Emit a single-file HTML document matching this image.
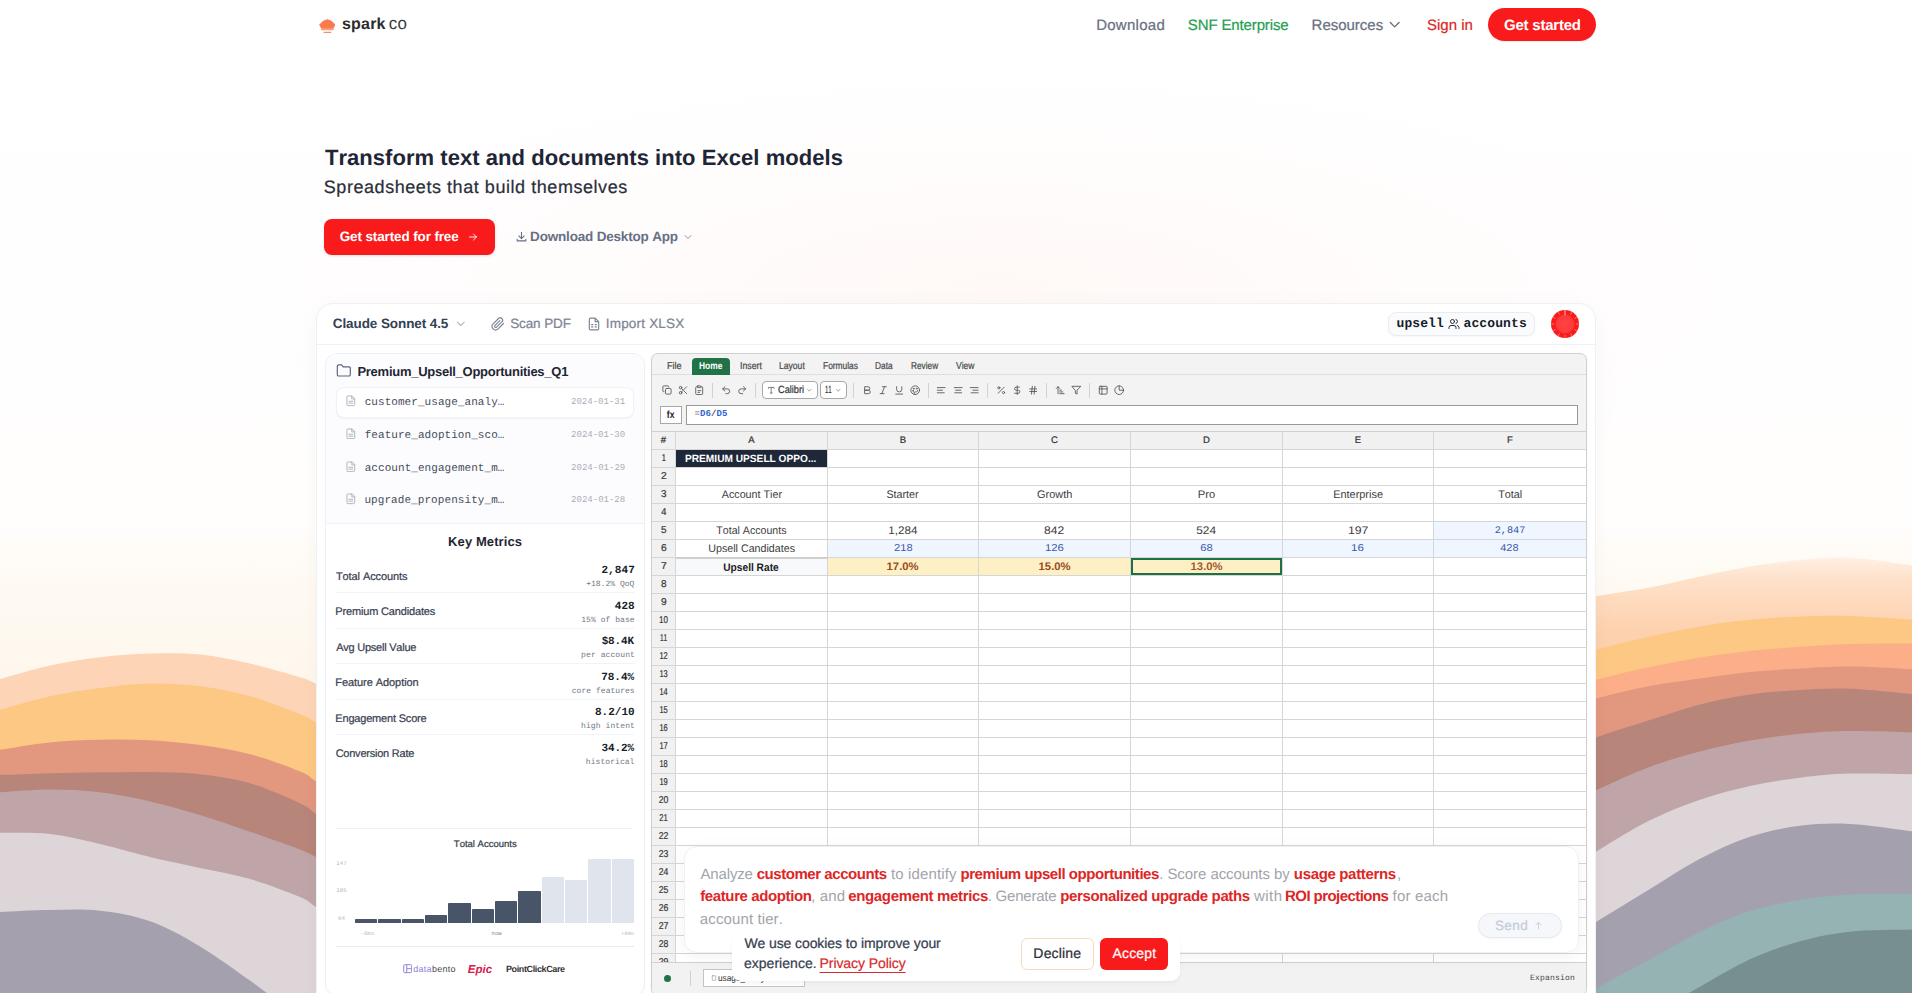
<!DOCTYPE html>
<html lang="en">
<head>
<meta charset="utf-8">
<title>spark co — Transform text and documents into Excel models</title>
<style>
*{box-sizing:border-box;margin:0;padding:0}
html,body{width:1920px;height:993px;overflow:hidden;background:#fff}
body{font-family:"Liberation Sans",sans-serif;color:#1f2937;font-kerning:none;text-rendering:geometricPrecision}
#root{position:relative;width:1920px;height:993px;overflow:hidden;background:#fff}
.b{position:absolute;display:block}
.t{position:absolute;white-space:nowrap;display:block}
.m{font-family:"Liberation Mono","DejaVu Sans Mono",monospace}
#bg{position:absolute;left:0;top:0;width:1912px;height:993px;overflow:hidden;
 background:
  radial-gradient(ellipse 800px 230px at 1000px 290px, rgba(255,242,240,.5), rgba(255,247,246,.25) 55%, rgba(255,255,255,0) 100%),
  linear-gradient(180deg,#ffffff 0px,#fffefe 300px,#fffefd 528px,#fffbf6 550px,#fef9f1 610px,#fef7ed 680px,#fef7ed 993px)}
</style>
</head>
<body>
<div id="root">
<div id="bg">
<svg class="b" style="left:0;top:0" width="1912" height="993" viewBox="0 0 1912 993">
<defs><linearGradient id="pg" gradientUnits="userSpaceOnUse" x1="0" y1="556" x2="0" y2="632"><stop offset="0" stop-color="#fff1e6"/><stop offset="0.3" stop-color="#fee1ca"/><stop offset="1" stop-color="#fdd1ae"/></linearGradient></defs>
<path d="M-20.0,686.0C-16.7,684.8 -11.7,682.4 0.0,679.0C11.7,675.6 33.3,669.0 50.0,665.4C66.7,661.8 83.3,659.2 100.0,657.2C116.7,655.2 133.3,654.1 150.0,653.6C166.7,653.1 183.3,652.8 200.0,654.5C216.7,656.2 233.3,659.8 250.0,663.6C266.7,667.4 289.0,673.9 300.0,677.2C311.0,680.5 309.3,680.9 316.0,683.5C322.7,686.1 336.0,691.4 340.0,693.0L340.0,1000L-20.0,1000Z" fill="#fdd5b6"/>
<path d="M-20.0,716.0C-16.7,715.0 -11.7,713.1 0.0,709.8C11.7,706.5 33.3,699.8 50.0,696.2C66.7,692.6 83.3,690.1 100.0,688.0C116.7,685.9 133.3,683.8 150.0,683.5C166.7,683.2 183.3,684.1 200.0,686.2C216.7,688.3 233.3,691.5 250.0,696.2C266.7,700.9 289.0,709.9 300.0,714.3C311.0,718.7 309.3,719.0 316.0,722.5C322.7,726.0 336.0,732.9 340.0,735.0L340.0,1000L-20.0,1000Z" fill="#fdc784"/>
<path d="M-20.0,753.0C-16.7,752.5 -11.7,751.5 0.0,749.7C11.7,747.9 33.3,744.1 50.0,742.4C66.7,740.7 83.3,740.1 100.0,739.7C116.7,739.3 133.3,739.3 150.0,740.2C166.7,741.1 183.3,742.8 200.0,745.1C216.7,747.4 233.3,749.8 250.0,754.2C266.7,758.6 289.0,766.9 300.0,771.4C311.0,775.9 309.3,777.1 316.0,781.4C322.7,785.7 336.0,794.4 340.0,797.0L340.0,1000L-20.0,1000Z" fill="#e2977f"/>
<path d="M-20.0,776.0C-16.7,775.8 -11.7,775.5 0.0,775.0C11.7,774.5 33.3,773.7 50.0,773.2C66.7,772.8 83.3,772.5 100.0,772.3C116.7,772.1 133.3,771.7 150.0,772.0C166.7,772.3 183.3,772.3 200.0,774.2C216.7,776.1 233.3,778.4 250.0,783.2C266.7,788.0 289.0,798.1 300.0,803.2C311.0,808.3 309.3,809.5 316.0,814.0C322.7,818.5 336.0,827.3 340.0,830.0L340.0,1000L-20.0,1000Z" fill="#b7857a"/>
<path d="M-20.0,794.0C-16.7,793.7 -11.7,793.0 0.0,792.3C11.7,791.6 33.3,789.6 50.0,789.6C66.7,789.6 83.3,790.3 100.0,792.3C116.7,794.3 133.3,797.6 150.0,801.4C166.7,805.2 183.3,810.0 200.0,815.0C216.7,820.0 233.3,826.0 250.0,831.7C266.7,837.5 289.0,845.3 300.0,849.5C311.0,853.7 309.3,853.9 316.0,857.0C322.7,860.1 336.0,866.2 340.0,868.0L340.0,1000L-20.0,1000Z" fill="#bfa5a8"/>
<path d="M-20.0,833.0C-16.7,833.0 -11.7,832.6 0.0,832.8C11.7,833.0 33.3,832.1 50.0,834.0C66.7,835.9 83.3,840.2 100.0,844.0C116.7,847.8 133.3,853.0 150.0,857.0C166.7,861.0 183.3,864.3 200.0,868.0C216.7,871.7 233.3,874.2 250.0,879.0C266.7,883.8 289.0,892.3 300.0,897.0C311.0,901.7 309.3,902.8 316.0,907.0C322.7,911.2 336.0,919.5 340.0,922.0L340.0,1000L-20.0,1000Z" fill="#ddd5d8"/>
<path d="M-20.0,913.5C-16.7,913.2 -11.7,912.6 0.0,912.0C11.7,911.4 33.3,910.2 50.0,910.0C66.7,909.8 83.3,908.9 100.0,910.8C116.7,912.7 133.3,915.4 150.0,921.3C166.7,927.2 183.3,936.5 200.0,946.4C216.7,956.3 236.7,971.2 250.0,980.6C263.3,990.0 275.0,999.3 280.0,1003.0L280.0,1000L-20.0,1000Z" fill="#a4a0ad"/>
<path d="M1550.0,603.0C1558.3,601.7 1583.3,598.0 1600.0,595.4C1616.7,592.8 1633.3,590.7 1650.0,587.6C1666.7,584.5 1683.3,580.1 1700.0,576.6C1716.7,573.1 1733.3,569.4 1750.0,566.6C1766.7,563.8 1783.3,561.5 1800.0,560.0C1816.7,558.5 1831.3,556.8 1850.0,557.7C1868.7,558.6 1897.0,563.3 1912.0,565.5C1927.0,567.7 1935.3,570.1 1940.0,571.0L1940.0,1000L1550.0,1000Z" fill="url(#pg)"/>
<path d="M1550.0,662.0C1558.3,659.8 1583.3,652.9 1600.0,648.6C1616.7,644.3 1633.3,640.1 1650.0,636.4C1666.7,632.7 1683.3,629.2 1700.0,626.4C1716.7,623.6 1733.3,621.4 1750.0,619.8C1766.7,618.1 1783.3,617.1 1800.0,616.5C1816.7,615.9 1831.3,615.5 1850.0,616.0C1868.7,616.5 1897.0,618.8 1912.0,619.8C1927.0,620.8 1935.3,621.6 1940.0,622.0L1940.0,1000L1550.0,1000Z" fill="#fdc784"/>
<path d="M1550.0,693.0C1558.3,690.6 1583.3,683.1 1600.0,678.8C1616.7,674.5 1633.3,670.5 1650.0,667.0C1666.7,663.5 1683.3,660.2 1700.0,657.5C1716.7,654.8 1733.3,652.8 1750.0,651.0C1766.7,649.2 1783.3,648.0 1800.0,646.8C1816.7,645.6 1831.3,644.5 1850.0,644.0C1868.7,643.5 1897.0,643.5 1912.0,643.5C1927.0,643.5 1935.3,643.9 1940.0,644.0L1940.0,1000L1550.0,1000Z" fill="#fcae89"/>
<path d="M1550.0,714.0C1558.3,711.2 1583.3,702.2 1600.0,697.5C1616.7,692.8 1633.3,689.2 1650.0,686.0C1666.7,682.8 1683.3,680.8 1700.0,678.5C1716.7,676.2 1733.3,673.7 1750.0,672.0C1766.7,670.3 1783.3,669.4 1800.0,668.5C1816.7,667.6 1831.3,666.4 1850.0,666.5C1868.7,666.6 1897.0,668.5 1912.0,669.3C1927.0,670.0 1935.3,670.7 1940.0,671.0L1940.0,1000L1550.0,1000Z" fill="#e2977f"/>
<path d="M1550.0,755.0C1558.3,751.8 1583.3,741.8 1600.0,736.0C1616.7,730.2 1633.3,725.2 1650.0,720.0C1666.7,714.8 1683.3,708.8 1700.0,704.5C1716.7,700.2 1733.3,696.9 1750.0,694.5C1766.7,692.1 1783.3,691.0 1800.0,690.0C1816.7,689.0 1831.3,688.0 1850.0,688.7C1868.7,689.4 1897.0,692.6 1912.0,694.0C1927.0,695.4 1935.3,696.5 1940.0,697.0L1940.0,1000L1550.0,1000Z" fill="#b7857a"/>
<path d="M1550.0,812.0C1558.3,808.1 1583.3,795.9 1600.0,788.4C1616.7,780.9 1633.3,772.8 1650.0,766.7C1666.7,760.6 1683.3,756.0 1700.0,751.6C1716.7,747.2 1733.3,743.6 1750.0,740.6C1766.7,737.6 1783.3,735.3 1800.0,733.7C1816.7,732.1 1831.3,731.2 1850.0,731.0C1868.7,730.8 1897.0,731.9 1912.0,732.4C1927.0,732.9 1935.3,733.7 1940.0,734.0L1940.0,1000L1550.0,1000Z" fill="#bfa5a8"/>
<path d="M1550.0,880.0C1558.3,874.9 1583.3,859.2 1600.0,849.2C1616.7,839.2 1633.3,828.5 1650.0,820.3C1666.7,812.0 1683.3,805.4 1700.0,799.7C1716.7,794.0 1733.3,789.7 1750.0,786.0C1766.7,782.3 1783.3,779.8 1800.0,777.7C1816.7,775.6 1831.3,774.2 1850.0,773.6C1868.7,773.0 1897.0,773.8 1912.0,774.2C1927.0,774.6 1935.3,775.7 1940.0,776.0L1940.0,1000L1550.0,1000Z" fill="#ddd5d8"/>
<path d="M1550.0,950.0C1558.3,944.9 1583.3,929.8 1600.0,919.6C1616.7,909.4 1633.3,899.1 1650.0,889.0C1666.7,878.9 1683.3,867.5 1700.0,858.8C1716.7,850.1 1733.3,842.3 1750.0,836.8C1766.7,831.3 1783.3,827.9 1800.0,825.8C1816.7,823.6 1831.3,823.0 1850.0,823.9C1868.7,824.8 1897.0,829.3 1912.0,831.3C1927.0,833.3 1935.3,835.2 1940.0,836.0L1940.0,1000L1550.0,1000Z" fill="#a4a0ad"/>
<path d="M1550.0,1015.0C1558.3,1010.2 1583.3,995.3 1600.0,986.0C1616.7,976.7 1633.3,968.2 1650.0,959.2C1666.7,950.2 1683.3,939.7 1700.0,931.7C1716.7,923.7 1733.3,916.3 1750.0,911.0C1766.7,905.7 1783.3,902.7 1800.0,900.0C1816.7,897.3 1831.3,895.6 1850.0,894.6C1868.7,893.6 1897.0,893.8 1912.0,893.7C1927.0,893.6 1935.3,894.0 1940.0,894.0L1940.0,1000L1550.0,1000Z" fill="#94b3b2"/>
<path d="M1650.0,1015.0C1658.3,1010.3 1683.3,996.0 1700.0,986.7C1716.7,977.4 1733.3,966.8 1750.0,959.2C1766.7,951.6 1783.3,945.9 1800.0,941.3C1816.7,936.7 1831.3,933.7 1850.0,931.7C1868.7,929.7 1897.0,929.9 1912.0,929.5C1927.0,929.1 1935.3,929.5 1940.0,929.5L1940.0,1000L1650.0,1000Z" fill="#788f90"/>
</svg>
</div>
<svg class="b" style="left:318.69px;top:18.59px" width="16.67" height="14.32" viewBox="90 165 320 275"><path d="M250,176 L328,203 L400,275 L362,348 L138,348 L100,275 L172,203 Z" fill="#f97b4c" stroke="#f97b4c" stroke-width="12" stroke-linejoin="round"/><rect x="128" y="356" width="244" height="24" rx="3" fill="#fa9a78"/><rect x="176" y="410" width="148" height="26" rx="4" fill="#ea8f7c"/></svg>
<span class="t" id="t1" style="top:15.00px;font-size:16px;line-height:20px;color:#2b2b2b;left:341.94px;font-weight:700;letter-spacing:0.213px;">spark</span>
<span class="t" id="t2" style="top:13.00px;font-size:17px;line-height:21px;color:#3a3a3a;left:388.78px;letter-spacing:0.281px;">co</span>
<span class="t" id="t3" style="top:17.00px;font-size:15px;line-height:18px;color:#696f82;left:1096.17px;letter-spacing:0.270px;-webkit-text-stroke:0.22px currentColor;">Download</span>
<span class="t" id="t4" style="top:17.00px;font-size:15px;line-height:18px;color:#1fa050;left:1187.82px;letter-spacing:-0.130px;-webkit-text-stroke:0.22px currentColor;">SNF Enterprise</span>
<span class="t" id="t5" style="top:17.00px;font-size:15px;line-height:18px;color:#696f82;left:1311.57px;letter-spacing:-0.016px;-webkit-text-stroke:0.22px currentColor;">Resources</span>
<svg class="b" style="left:1386.10px;top:15.60px;" width="17.40" height="17.40" viewBox="0 0 24 24" fill="none" stroke="#696f82" stroke-width="1.9" stroke-linecap="round" stroke-linejoin="round"><path d="M6 9l6 6 6-6"/></svg>
<span class="t" id="t6" style="top:17.00px;font-size:15px;line-height:18px;color:#dc2626;left:1426.92px;letter-spacing:0.032px;-webkit-text-stroke:0.22px currentColor;">Sign in</span>
<div class="b" style="left:1488.00px;top:8.00px;width:108.00px;height:33.00px;background:#f91b1b;border-radius:17px;box-shadow:0 1px 2px rgba(0,0,0,.08)"></div>
<span class="t" id="t7" style="top:17.00px;font-size:15px;line-height:18px;color:#fff;left:1503.98px;font-weight:700;letter-spacing:-0.219px;">Get started</span>
<span class="t" id="t8" style="top:144.00px;font-size:22px;line-height:27px;color:#1e2536;left:324.95px;font-weight:700;letter-spacing:0.046px;">Transform text and documents into Excel models</span>
<span class="t" id="t9" style="top:176.00px;font-size:18px;line-height:22px;color:#2a2f3a;left:323.78px;letter-spacing:0.554px;-webkit-text-stroke:0.22px currentColor;">Spreadsheets that build themselves</span>
<div class="b" style="left:324.00px;top:219.20px;width:171.00px;height:35.60px;background:#f91b1b;border-radius:8px;box-shadow:0 1px 3px rgba(0,0,0,.12)"></div>
<span class="t" id="t10" style="top:228.00px;font-size:13.5px;line-height:17px;color:#fff;left:339.75px;font-weight:700;letter-spacing:-0.133px;">Get started for free</span>
<svg class="b" style="left:467.00px;top:230.50px;" width="12.00" height="12.00" viewBox="0 0 24 24" fill="none" stroke="#fff" stroke-width="1.8" stroke-linecap="round" stroke-linejoin="round"><path d="M5 12h14M13 6l6 6-6 6"/></svg>
<svg class="b" style="left:514.50px;top:229.50px;" width="13.00" height="13.00" viewBox="0 0 24 24" fill="none" stroke="#667085" stroke-width="2" stroke-linecap="round" stroke-linejoin="round"><path d="M12 4v11M7 11l5 5 5-5M4 17v3h16v-3"/></svg>
<span class="t" id="t11" style="top:228.00px;font-size:13.5px;line-height:17px;color:#667085;left:530.10px;font-weight:700;letter-spacing:-0.186px;">Download Desktop App</span>
<svg class="b" style="left:682.00px;top:230.50px;" width="12.00" height="12.00" viewBox="0 0 24 24" fill="none" stroke="#8a93a3" stroke-width="2" stroke-linecap="round" stroke-linejoin="round"><path d="M6 9l6 6 6-6"/></svg>
<div class="b" style="left:316.00px;top:303.00px;width:1280.00px;height:717.00px;background:#fff;border:1px solid #f0f1f4;border-radius:17px;box-shadow:0 4px 24px rgba(15,23,42,.03)"></div>
<div class="b" style="left:317.00px;top:344.00px;width:1278.00px;height:1.00px;background:#f0f1f4"></div>
<span class="t" id="t12" style="top:315.00px;font-size:13.5px;line-height:17px;color:#334155;left:332.75px;font-weight:700;letter-spacing:-0.087px;">Claude Sonnet 4.5</span>
<svg class="b" style="left:454.20px;top:317.40px;" width="13.60" height="13.60" viewBox="0 0 24 24" fill="none" stroke="#b4bac4" stroke-width="2" stroke-linecap="round" stroke-linejoin="round"><path d="M6 9l6 6 6-6"/></svg>
<svg class="b" style="left:490.50px;top:317.00px;" width="14.00" height="14.00" viewBox="0 0 24 24" fill="none" stroke="#7d8594" stroke-width="2" stroke-linecap="round" stroke-linejoin="round"><path d="M21.4 11.1l-9.2 9.2a6 6 0 0 1-8.5-8.5l9.2-9.2a4 4 0 0 1 5.7 5.7l-9.2 9.2a2 2 0 0 1-2.8-2.8l8.5-8.5"/></svg>
<span class="t" id="t13" style="top:315.00px;font-size:13.5px;line-height:17px;color:#7d8594;left:510.19px;letter-spacing:-0.110px;-webkit-text-stroke:0.22px currentColor;">Scan PDF</span>
<svg class="b" style="left:587.00px;top:317.00px;" width="14.00" height="14.00" viewBox="0 0 24 24" fill="none" stroke="#7d8594" stroke-width="2" stroke-linecap="round" stroke-linejoin="round"><path d="M14 2H6a2 2 0 0 0-2 2v16a2 2 0 0 0 2 2h12a2 2 0 0 0 2-2V8zM14 2v6h6M8 13h2M8 17h2M14 13h2M14 17h2"/></svg>
<span class="t" id="t14" style="top:315.00px;font-size:13.5px;line-height:17px;color:#7d8594;left:605.75px;letter-spacing:0.200px;-webkit-text-stroke:0.22px currentColor;">Import XLSX</span>
<div class="b" style="left:1388.40px;top:312.30px;width:146.20px;height:23.30px;background:#fafbfd;border:1px solid #e9edf2;border-radius:8px;box-shadow:0 1px 2px rgba(15,23,42,.04)"></div>
<span class="t m" id="t15" style="top:316.00px;font-size:13px;line-height:16px;color:#161c2a;left:1396.54px;font-weight:700;letter-spacing:0.094px;">upsell</span>
<svg class="b" style="left:1448.00px;top:317.60px;" width="12.00" height="12.00" viewBox="0 0 24 24" fill="none" stroke="#1f2937" stroke-width="2" stroke-linecap="round" stroke-linejoin="round"><path d="M16 21v-2a4 4 0 0 0-4-4H6a4 4 0 0 0-4 4v2"/><circle cx="9" cy="7" r="4"/><path d="M22 21v-2a4 4 0 0 0-3-3.87M16 3.13a4 4 0 0 1 0 7.75"/></svg>
<span class="t m" id="t16" style="top:316.00px;font-size:13px;line-height:16px;color:#161c2a;left:1463.53px;font-weight:700;letter-spacing:0.108px;">accounts</span>
<svg class="b" style="left:1550px;top:309px" width="30" height="30" viewBox="0 0 30 30"><defs><radialGradient id="rg" cx="50%" cy="50%" r="50%"><stop offset="0" stop-color="#ff4343"/><stop offset="0.62" stop-color="#fd3a3a"/><stop offset="0.7" stop-color="#f81c1c"/><stop offset="1" stop-color="#f81c1c"/></radialGradient></defs><circle cx="15" cy="15" r="14" fill="url(#rg)"/><g stroke="#ff7a7a" stroke-width="0.9" stroke-linecap="round"><path d="M15 1.6v4.2" stroke="#ffb3b3" stroke-width="1.1"/><path d="M21.7 3.4l-1.1 1.9M26.6 8.3l-1.9 1.1M28.4 15h-2.2M26.6 21.7l-1.9-1.1M21.7 26.6l-1.1-1.9M15 28.4v-2.2M8.3 26.6l1.1-1.9M3.4 21.7l1.9-1.1M1.6 15h2.2M3.4 8.3l1.9 1.1M8.3 3.4l1.1 1.9"/></g></svg>
<div class="b" style="left:325.00px;top:353.00px;width:320.00px;height:643.00px;background:#fff;border:1px solid #edf0f4;border-radius:12px;box-shadow:0 1px 3px rgba(15,23,42,.03)"></div>
<div class="b" style="left:326.00px;top:354.00px;width:318.00px;height:170.00px;background:#fcfcfe;border-radius:11px 11px 0 0;border-bottom:1px solid #f0f2f5"></div>
<svg class="b" style="left:336.20px;top:363.00px;" width="15.60" height="15.60" viewBox="0 0 24 24" fill="none" stroke="#5b6577" stroke-width="1.8" stroke-linecap="round" stroke-linejoin="round"><path d="M20 20a2 2 0 0 0 2-2V8a2 2 0 0 0-2-2h-7.9a2 2 0 0 1-1.7-.9L9.6 3.9A2 2 0 0 0 7.9 3H4a2 2 0 0 0-2 2v13a2 2 0 0 0 2 2z"/></svg>
<span class="t" id="t17" style="top:364.00px;font-size:13px;line-height:16px;color:#1f2633;left:357.43px;font-weight:700;letter-spacing:-0.265px;">Premium_Upsell_Opportunities_Q1</span>
<div class="b" style="left:336.00px;top:387.00px;width:298.00px;height:31.00px;background:#fff;border:1px solid #eef1f5;border-radius:8px;box-shadow:0 1px 2px rgba(15,23,42,.04)"></div>
<svg class="b" style="left:345.00px;top:395.20px;" width="11.60" height="11.60" viewBox="0 0 24 24" fill="none" stroke="#adb3be" stroke-width="2" stroke-linecap="round" stroke-linejoin="round"><path d="M14 2H6a2 2 0 0 0-2 2v16a2 2 0 0 0 2 2h12a2 2 0 0 0 2-2V8zM14 2v6h6M8 13h8M8 17h8"/></svg>
<span class="t m" id="t18" style="top:396.00px;font-size:11px;line-height:14px;color:#464d5b;left:364.70px;letter-spacing:0.055px;">customer_usage_analy…</span>
<span class="t m" id="t19" style="top:397.00px;font-size:9px;line-height:11px;color:#a9aeb9;left:571.07px;letter-spacing:-0.005px;">2024-01-31</span>
<svg class="b" style="left:345.00px;top:427.90px;" width="11.60" height="11.60" viewBox="0 0 24 24" fill="none" stroke="#adb3be" stroke-width="2" stroke-linecap="round" stroke-linejoin="round"><path d="M14 2H6a2 2 0 0 0-2 2v16a2 2 0 0 0 2 2h12a2 2 0 0 0 2-2V8zM14 2v6h6M8 13h8M8 17h8"/></svg>
<span class="t m" id="t20" style="top:429.00px;font-size:11px;line-height:14px;color:#464d5b;left:364.66px;letter-spacing:0.057px;">feature_adoption_sco…</span>
<span class="t m" id="t21" style="top:430.00px;font-size:9px;line-height:11px;color:#a9aeb9;left:571.07px;letter-spacing:0.009px;">2024-01-30</span>
<svg class="b" style="left:345.00px;top:460.60px;" width="11.60" height="11.60" viewBox="0 0 24 24" fill="none" stroke="#adb3be" stroke-width="2" stroke-linecap="round" stroke-linejoin="round"><path d="M14 2H6a2 2 0 0 0-2 2v16a2 2 0 0 0 2 2h12a2 2 0 0 0 2-2V8zM14 2v6h6M8 13h8M8 17h8"/></svg>
<span class="t m" id="t22" style="top:462.00px;font-size:11px;line-height:14px;color:#464d5b;left:364.71px;letter-spacing:0.055px;">account_engagement_m…</span>
<span class="t m" id="t23" style="top:463.00px;font-size:9px;line-height:11px;color:#a9aeb9;left:571.07px;letter-spacing:0.016px;">2024-01-29</span>
<svg class="b" style="left:345.00px;top:493.30px;" width="11.60" height="11.60" viewBox="0 0 24 24" fill="none" stroke="#adb3be" stroke-width="2" stroke-linecap="round" stroke-linejoin="round"><path d="M14 2H6a2 2 0 0 0-2 2v16a2 2 0 0 0 2 2h12a2 2 0 0 0 2-2V8zM14 2v6h6M8 13h8M8 17h8"/></svg>
<span class="t m" id="t24" style="top:494.00px;font-size:11px;line-height:14px;color:#464d5b;left:364.41px;letter-spacing:0.070px;">upgrade_propensity_m…</span>
<span class="t m" id="t25" style="top:495.00px;font-size:9px;line-height:11px;color:#a9aeb9;left:571.07px;letter-spacing:0.013px;">2024-01-28</span>
<div class="t" style="top:534.00px;font-size:13px;line-height:16px;color:#1f2633;left:285.08px;width:400px;text-align:center;font-weight:700;letter-spacing:0.092px;"><span id="t26">Key Metrics</span></div>
<span class="t" id="t27" style="top:570.00px;font-size:11px;line-height:14px;color:#394150;left:335.95px;letter-spacing:-0.093px;-webkit-text-stroke:0.22px currentColor;">Total Accounts</span>
<span class="t m" id="t28" style="top:564.00px;font-size:11px;line-height:14px;color:#161c2a;right:1285.17px;font-weight:700;letter-spacing:0.085px;">2,847</span>
<span class="t m" id="t29" style="top:580.00px;font-size:8px;line-height:10px;color:#6f7786;right:1285.62px;letter-spacing:0.023px;">+18.2% QoQ</span>
<div class="b" style="left:336.00px;top:592.20px;width:298.00px;height:1.00px;background:#f1f3f6"></div>
<span class="t" id="t30" style="top:605.00px;font-size:11px;line-height:14px;color:#394150;left:335.30px;letter-spacing:-0.160px;-webkit-text-stroke:0.22px currentColor;">Premium Candidates</span>
<span class="t m" id="t31" style="top:600.00px;font-size:11px;line-height:14px;color:#161c2a;right:1285.40px;font-weight:700;letter-spacing:0.007px;">428</span>
<span class="t m" id="t32" style="top:616.00px;font-size:8px;line-height:10px;color:#6f7786;right:1285.42px;letter-spacing:0.050px;">15% of base</span>
<div class="b" style="left:336.00px;top:627.70px;width:298.00px;height:1.00px;background:#f1f3f6"></div>
<span class="t" id="t33" style="top:641.00px;font-size:11px;line-height:14px;color:#394150;left:336.18px;letter-spacing:-0.237px;-webkit-text-stroke:0.22px currentColor;">Avg Upsell Value</span>
<span class="t m" id="t34" style="top:635.00px;font-size:11px;line-height:14px;color:#161c2a;right:1286.17px;font-weight:700;letter-spacing:-0.171px;">$8.4K</span>
<span class="t m" id="t35" style="top:651.00px;font-size:8px;line-height:10px;color:#6f7786;right:1285.08px;letter-spacing:0.092px;">per account</span>
<div class="b" style="left:336.00px;top:663.20px;width:298.00px;height:1.00px;background:#f1f3f6"></div>
<span class="t" id="t36" style="top:676.00px;font-size:11px;line-height:14px;color:#394150;left:335.30px;letter-spacing:-0.065px;-webkit-text-stroke:0.22px currentColor;">Feature Adoption</span>
<span class="t m" id="t37" style="top:671.00px;font-size:11px;line-height:14px;color:#161c2a;right:1286.10px;font-weight:700;letter-spacing:-0.089px;">78.4%</span>
<span class="t m" id="t38" style="top:687.00px;font-size:8px;line-height:10px;color:#6f7786;right:1285.29px;letter-spacing:0.046px;">core features</span>
<div class="b" style="left:336.00px;top:698.70px;width:298.00px;height:1.00px;background:#f1f3f6"></div>
<span class="t" id="t39" style="top:712.00px;font-size:11px;line-height:14px;color:#394150;left:335.30px;letter-spacing:-0.185px;-webkit-text-stroke:0.22px currentColor;">Engagement Score</span>
<span class="t m" id="t40" style="top:706.00px;font-size:11px;line-height:14px;color:#161c2a;right:1285.35px;font-weight:700;letter-spacing:0.023px;">8.2/10</span>
<span class="t m" id="t41" style="top:722.00px;font-size:8px;line-height:10px;color:#6f7786;right:1285.08px;letter-spacing:0.094px;">high intent</span>
<div class="b" style="left:336.00px;top:734.20px;width:298.00px;height:1.00px;background:#f1f3f6"></div>
<span class="t" id="t42" style="top:747.00px;font-size:11px;line-height:14px;color:#394150;left:335.64px;letter-spacing:-0.227px;-webkit-text-stroke:0.22px currentColor;">Conversion Rate</span>
<span class="t m" id="t43" style="top:742.00px;font-size:11px;line-height:14px;color:#161c2a;right:1286.15px;font-weight:700;letter-spacing:-0.140px;">34.2%</span>
<span class="t m" id="t44" style="top:758.00px;font-size:8px;line-height:10px;color:#6f7786;right:1285.50px;letter-spacing:0.062px;">historical</span>
<div class="b" style="left:336.00px;top:827.70px;width:296.50px;height:1.00px;background:#eef0f3"></div>
<div class="t" style="top:839.00px;font-size:9.5px;line-height:12px;color:#333b49;left:285.27px;width:400px;text-align:center;letter-spacing:0.002px;-webkit-text-stroke:0.22px currentColor;"><span id="t45">Total Accounts</span></div>
<div class="t m" style="top:860.00px;font-size:5.8px;line-height:7px;color:#b0b5c0;left:141.50px;width:400px;text-align:center;"><span id="t46">147</span></div>
<div class="t m" style="top:887.00px;font-size:5.8px;line-height:7px;color:#b0b5c0;left:141.50px;width:400px;text-align:center;"><span id="t47">105</span></div>
<div class="t m" style="top:915.00px;font-size:5.8px;line-height:7px;color:#b0b5c0;left:141.50px;width:400px;text-align:center;"><span id="t48">64</span></div>
<div class="b" style="left:355.20px;top:919.20px;width:21.90px;height:3.80px;background:#485467;border-radius:0.8px 0.8px 0 0"></div>
<div class="b" style="left:378.10px;top:919.20px;width:22.90px;height:3.80px;background:#485467;border-radius:0.8px 0.8px 0 0"></div>
<div class="b" style="left:402.00px;top:919.20px;width:22.00px;height:3.80px;background:#485467;border-radius:0.8px 0.8px 0 0"></div>
<div class="b" style="left:425.00px;top:915.10px;width:21.90px;height:7.90px;background:#485467;border-radius:0.8px 0.8px 0 0"></div>
<div class="b" style="left:447.90px;top:903.10px;width:23.00px;height:19.90px;background:#485467;border-radius:0.8px 0.8px 0 0"></div>
<div class="b" style="left:471.90px;top:909.00px;width:21.90px;height:14.00px;background:#485467;border-radius:0.8px 0.8px 0 0"></div>
<div class="b" style="left:494.80px;top:901.10px;width:22.00px;height:21.90px;background:#485467;border-radius:0.8px 0.8px 0 0"></div>
<div class="b" style="left:517.80px;top:891.10px;width:22.90px;height:31.90px;background:#485467;border-radius:0.8px 0.8px 0 0"></div>
<div class="b" style="left:541.70px;top:877.10px;width:22.00px;height:45.90px;background:#e0e4ec;border-radius:0.8px 0.8px 0 0"></div>
<div class="b" style="left:565.20px;top:879.90px;width:21.40px;height:43.10px;background:#e0e4ec;border-radius:0.8px 0.8px 0 0"></div>
<div class="b" style="left:588.10px;top:859.00px;width:22.50px;height:64.00px;background:#e0e4ec;border-radius:0.8px 0.8px 0 0"></div>
<div class="b" style="left:612.10px;top:859.00px;width:21.90px;height:64.00px;background:#e0e4ec;border-radius:0.8px 0.8px 0 0"></div>
<span class="t m" id="t49" style="top:930.00px;font-size:5.6px;line-height:7px;color:#b6bbc5;left:360.60px;">-8mo</span>
<span class="t m" id="t50" style="top:930.00px;font-size:5.6px;line-height:7px;color:#7d8490;left:491.60px;">now</span>
<span class="t m" id="t51" style="top:930.00px;font-size:5.6px;line-height:7px;color:#b6bbc5;right:1285.80px;">+4mo</span>
<div class="b" style="left:336.00px;top:945.90px;width:298.00px;height:1.00px;background:#e8ebef"></div>
<svg class="b" style="left:402.8px;top:964.2px" width="9.4" height="9.4" viewBox="0 0 20 20" fill="none" stroke="#8b7fd6" stroke-width="2"><rect x="1.5" y="1.5" width="17" height="17" rx="2"/><path d="M8 1.5v17M8 10h10.5"/></svg>
<span class="t" id="dbento" style="top:964.00px;font-size:9px;line-height:11px;color:#4a4a55;left:413.22px;letter-spacing:0.290px;"><span style="color:#8f84d8">data</span><span style="color:#4a4a55">bento</span></span>
<span class="t" id="t53" style="top:963.00px;font-size:11.5px;line-height:14px;color:#d61c4e;left:467.80px;font-weight:700;letter-spacing:0.028px;font-style:italic;">Epic</span>
<span class="t" id="t54" style="top:964.00px;font-size:9px;line-height:11px;color:#333333;left:506.00px;font-weight:700;letter-spacing:-0.385px;">PointClickCare</span>
<div class="b" style="left:651.00px;top:353.00px;width:936.00px;height:643.00px;background:#f3f3f3;border:1px solid #d0d0d0;border-radius:7px;box-shadow:0 1px 3px rgba(0,0,0,.05)"></div>
<div class="b" style="left:652.00px;top:374.00px;width:934.00px;height:1.00px;background:#dedede"></div>
<div class="b" style="left:692.00px;top:358.00px;width:38.00px;height:16.50px;background:#217346;border-radius:4px 4px 0 0"></div>
<span class="t" id="t55" style="top:361.00px;font-size:10px;line-height:12px;color:#4a4a4a;left:667.25px;-webkit-text-stroke:0.22px currentColor;transform:scaleX(0.9092);transform-origin:0 50%;">File</span>
<span class="t" id="t56" style="top:361.00px;font-size:10px;line-height:12px;color:#fff;left:698.94px;font-weight:700;transform:scaleX(0.8404);transform-origin:0 50%;">Home</span>
<span class="t" id="t57" style="top:361.00px;font-size:10px;line-height:12px;color:#4a4a4a;left:739.69px;-webkit-text-stroke:0.22px currentColor;transform:scaleX(0.8745);transform-origin:0 50%;">Insert</span>
<span class="t" id="t58" style="top:361.00px;font-size:10px;line-height:12px;color:#4a4a4a;left:779.30px;-webkit-text-stroke:0.22px currentColor;transform:scaleX(0.8582);transform-origin:0 50%;">Layout</span>
<span class="t" id="t59" style="top:361.00px;font-size:10px;line-height:12px;color:#4a4a4a;left:822.81px;-webkit-text-stroke:0.22px currentColor;transform:scaleX(0.8396);transform-origin:0 50%;">Formulas</span>
<span class="t" id="t60" style="top:361.00px;font-size:10px;line-height:12px;color:#4a4a4a;left:875.31px;-webkit-text-stroke:0.22px currentColor;transform:scaleX(0.8373);transform-origin:0 50%;">Data</span>
<span class="t" id="t61" style="top:361.00px;font-size:10px;line-height:12px;color:#4a4a4a;left:910.82px;-webkit-text-stroke:0.22px currentColor;transform:scaleX(0.8283);transform-origin:0 50%;">Review</span>
<span class="t" id="t62" style="top:361.00px;font-size:10px;line-height:12px;color:#4a4a4a;left:956.46px;-webkit-text-stroke:0.22px currentColor;transform:scaleX(0.8543);transform-origin:0 50%;">View</span>
<svg class="b" style="left:661.55px;top:384.50px;" width="10.40" height="10.40" viewBox="0 0 24 24" fill="none" stroke="#555555" stroke-width="2" stroke-linecap="round" stroke-linejoin="round"><rect x="8" y="8" width="13" height="13" rx="2.5"/><path d="M4.5 15.5H4a2 2 0 0 1-2-2V4a2 2 0 0 1 2-2h9.5a2 2 0 0 1 2 2v.5"/></svg>
<svg class="b" style="left:677.55px;top:384.50px;" width="10.40" height="10.40" viewBox="0 0 24 24" fill="none" stroke="#555555" stroke-width="2" stroke-linecap="round" stroke-linejoin="round"><circle cx="6" cy="6" r="3"/><circle cx="6" cy="18" r="3"/><path d="M20 4L8.1 15.9M14.5 14.5L20 20M8.1 8.1L12 12"/></svg>
<svg class="b" style="left:693.80px;top:384.50px;" width="10.40" height="10.40" viewBox="0 0 24 24" fill="none" stroke="#555555" stroke-width="2" stroke-linecap="round" stroke-linejoin="round"><rect x="8" y="2" width="8" height="4" rx="1"/><path d="M16 4h2a2 2 0 0 1 2 2v14a2 2 0 0 1-2 2H6a2 2 0 0 1-2-2V6a2 2 0 0 1 2-2h2M9 13h7M9 17h4"/></svg>
<div class="b" style="left:712.00px;top:382.50px;width:1.00px;height:15.00px;background:#d2d2d2"></div>
<div class="b" style="left:755.00px;top:382.50px;width:1.00px;height:15.00px;background:#d2d2d2"></div>
<div class="b" style="left:853.00px;top:382.50px;width:1.00px;height:15.00px;background:#d2d2d2"></div>
<div class="b" style="left:928.00px;top:382.50px;width:1.00px;height:15.00px;background:#d2d2d2"></div>
<div class="b" style="left:987.00px;top:382.50px;width:1.00px;height:15.00px;background:#d2d2d2"></div>
<div class="b" style="left:1046.00px;top:382.50px;width:1.00px;height:15.00px;background:#d2d2d2"></div>
<div class="b" style="left:1089.00px;top:382.50px;width:1.00px;height:15.00px;background:#d2d2d2"></div>
<svg class="b" style="left:720.80px;top:384.50px;" width="10.40" height="10.40" viewBox="0 0 24 24" fill="none" stroke="#555555" stroke-width="2" stroke-linecap="round" stroke-linejoin="round"><path d="M9 14L4 9l5-5"/><path d="M4 9h10.5a5.5 5.5 0 0 1 0 11H11"/></svg>
<svg class="b" style="left:736.80px;top:384.50px;" width="10.40" height="10.40" viewBox="0 0 24 24" fill="none" stroke="#555555" stroke-width="2" stroke-linecap="round" stroke-linejoin="round"><path d="M15 14l5-5-5-5"/><path d="M20 9H9.5a5.5 5.5 0 0 0 0 11H13"/></svg>
<div class="b" style="left:762.00px;top:381.00px;width:56.00px;height:18.00px;background:#fff;border:1px solid #a8a8a8;border-radius:4px"></div>
<svg class="b" style="left:767.20px;top:385.80px;" width="8.40" height="8.40" viewBox="0 0 24 24" fill="none" stroke="#555" stroke-width="2" stroke-linecap="round" stroke-linejoin="round"><path d="M4 7V4h16v3M9 20h6M12 4v16"/></svg>
<span class="t" id="t63" style="top:384.00px;font-size:10.5px;line-height:13px;color:#333;left:778.23px;-webkit-text-stroke:0.22px currentColor;transform:scaleX(0.8767);transform-origin:0 50%;">Calibri</span>
<svg class="b" style="left:805.50px;top:386.80px;" width="6.60" height="6.60" viewBox="0 0 24 24" fill="none" stroke="#666" stroke-width="2.4" stroke-linecap="round" stroke-linejoin="round"><path d="M6 9l6 6 6-6"/></svg>
<div class="b" style="left:820.00px;top:381.00px;width:27.00px;height:18.00px;background:#fff;border:1px solid #a8a8a8;border-radius:4px"></div>
<span class="t" id="t64" style="top:384.00px;font-size:10.5px;line-height:13px;color:#333;left:825.04px;-webkit-text-stroke:0.22px currentColor;transform:scaleX(0.5691);transform-origin:0 50%;">11</span>
<svg class="b" style="left:834.80px;top:386.80px;" width="6.60" height="6.60" viewBox="0 0 24 24" fill="none" stroke="#666" stroke-width="2.4" stroke-linecap="round" stroke-linejoin="round"><path d="M6 9l6 6 6-6"/></svg>
<svg class="b" style="left:861.80px;top:384.50px;" width="10.40" height="10.40" viewBox="0 0 24 24" fill="none" stroke="#555555" stroke-width="2" stroke-linecap="round" stroke-linejoin="round"><path d="M7 4h7a4 4 0 0 1 0 8H7zM7 12h8a4 4 0 0 1 0 8H7z"/></svg>
<svg class="b" style="left:877.80px;top:384.50px;" width="10.40" height="10.40" viewBox="0 0 24 24" fill="none" stroke="#555555" stroke-width="2" stroke-linecap="round" stroke-linejoin="round"><path d="M19 4h-9M14 20H5M15 4L9 20"/></svg>
<svg class="b" style="left:893.80px;top:384.50px;" width="10.40" height="10.40" viewBox="0 0 24 24" fill="none" stroke="#555555" stroke-width="2" stroke-linecap="round" stroke-linejoin="round"><path d="M6 4v6a6 6 0 0 0 12 0V4M4 21h16"/></svg>
<svg class="b" style="left:910.05px;top:384.50px;" width="10.40" height="10.40" viewBox="0 0 24 24" fill="none" stroke="#555555" stroke-width="2" stroke-linecap="round" stroke-linejoin="round"><circle cx="12" cy="12" r="10"/><circle cx="8.5" cy="8.5" r="1"/><circle cx="15.5" cy="8.5" r="1"/><circle cx="7" cy="13.5" r="1"/><path d="M12 22a3 3 0 0 1 0-6h2.5a3 3 0 0 0 3-3"/></svg>
<svg class="b" style="left:936.30px;top:384.50px;" width="10.40" height="10.40" viewBox="0 0 24 24" fill="none" stroke="#555555" stroke-width="2" stroke-linecap="round" stroke-linejoin="round"><path d="M3 6h18M3 12h12M3 18h16"/></svg>
<svg class="b" style="left:952.80px;top:384.50px;" width="10.40" height="10.40" viewBox="0 0 24 24" fill="none" stroke="#555555" stroke-width="2" stroke-linecap="round" stroke-linejoin="round"><path d="M3 6h18M6 12h12M4 18h16"/></svg>
<svg class="b" style="left:969.05px;top:384.50px;" width="10.40" height="10.40" viewBox="0 0 24 24" fill="none" stroke="#555555" stroke-width="2" stroke-linecap="round" stroke-linejoin="round"><path d="M3 6h18M9 12h12M5 18h16"/></svg>
<svg class="b" style="left:995.80px;top:384.50px;" width="10.40" height="10.40" viewBox="0 0 24 24" fill="none" stroke="#555555" stroke-width="2" stroke-linecap="round" stroke-linejoin="round"><path d="M19 5L5 19"/><circle cx="6.5" cy="6.5" r="2.5"/><circle cx="17.5" cy="17.5" r="2.5"/></svg>
<svg class="b" style="left:1011.80px;top:384.50px;" width="10.40" height="10.40" viewBox="0 0 24 24" fill="none" stroke="#555555" stroke-width="2" stroke-linecap="round" stroke-linejoin="round"><path d="M12 2v20M17 5H9.5a3.5 3.5 0 0 0 0 7h5a3.5 3.5 0 0 1 0 7H6"/></svg>
<svg class="b" style="left:1027.80px;top:384.50px;" width="10.40" height="10.40" viewBox="0 0 24 24" fill="none" stroke="#555555" stroke-width="2" stroke-linecap="round" stroke-linejoin="round"><path d="M4 9h16M4 15h16M10 3L8 21M16 3l-2 18"/></svg>
<svg class="b" style="left:1054.80px;top:384.50px;" width="10.40" height="10.40" viewBox="0 0 24 24" fill="none" stroke="#555555" stroke-width="2" stroke-linecap="round" stroke-linejoin="round"><path d="M3 8l4-4 4 4M7 4v16M11 12h4M11 16h7M11 20h10"/></svg>
<svg class="b" style="left:1071.30px;top:384.50px;" width="10.40" height="10.40" viewBox="0 0 24 24" fill="none" stroke="#555555" stroke-width="2" stroke-linecap="round" stroke-linejoin="round"><path d="M22 3H2l8 9.5V19l4 2v-8.5z"/></svg>
<svg class="b" style="left:1097.80px;top:384.50px;" width="10.40" height="10.40" viewBox="0 0 24 24" fill="none" stroke="#555555" stroke-width="2" stroke-linecap="round" stroke-linejoin="round"><rect x="3" y="3" width="18" height="18" rx="2"/><path d="M3 9h18M9 3v18"/></svg>
<svg class="b" style="left:1113.55px;top:384.50px;" width="10.40" height="10.40" viewBox="0 0 24 24" fill="none" stroke="#555555" stroke-width="2" stroke-linecap="round" stroke-linejoin="round"><circle cx="12" cy="12" r="10"/><path d="M12 2v10h10"/></svg>
<div class="b" style="left:660.00px;top:406.00px;width:22.00px;height:18.00px;background:#fff;border:1px solid #a8a8a8"></div>
<div class="t" style="top:409.00px;font-size:10.5px;line-height:13px;color:#222;left:470.86px;width:400px;text-align:center;font-weight:700;"><span id="t65" style="display:inline-block;transform:scaleX(0.8150);transform-origin:50% 50%;">fx</span></div>
<div class="b" style="left:686.00px;top:405.00px;width:892.00px;height:20.00px;background:#fff;border:1px solid #999"></div>
<span class="t m" id="formula" style="top:409.00px;font-size:9px;line-height:11px;color:#666;left:694.49px;font-weight:700;letter-spacing:0.114px;"><span style="color:#7a7a7a;font-weight:400">=</span><span style="color:#2f64d6">D6</span><span style="color:#555">/</span><span style="color:#2f64d6">D5</span></span>
<div class="b" style="left:652.00px;top:431.50px;width:934.00px;height:531.50px;background:#fff"></div>
<div class="b" style="left:652.00px;top:431.50px;width:934.00px;height:18.00px;background:#f1f1f1"></div>
<div class="b" style="left:652.00px;top:431.50px;width:24.00px;height:531.50px;background:#f1f1f1"></div>
<div class="b" style="left:676.00px;top:449.50px;width:151.50px;height:18.00px;background:#1e2838"></div>
<div class="b" style="left:1434.00px;top:522.00px;width:152.00px;height:18.00px;background:#eff6ff"></div>
<div class="b" style="left:828.00px;top:540.00px;width:151.00px;height:18.00px;background:#eff6ff"></div>
<div class="b" style="left:979.00px;top:540.00px;width:152.00px;height:18.00px;background:#eff6ff"></div>
<div class="b" style="left:1131.00px;top:540.00px;width:152.00px;height:18.00px;background:#eff6ff"></div>
<div class="b" style="left:1283.00px;top:540.00px;width:151.00px;height:18.00px;background:#eff6ff"></div>
<div class="b" style="left:1434.00px;top:540.00px;width:152.00px;height:18.00px;background:#eff6ff"></div>
<div class="b" style="left:676.00px;top:558.00px;width:152.00px;height:18.00px;background:#f7f9fb"></div>
<div class="b" style="left:828.00px;top:558.00px;width:151.00px;height:18.00px;background:#fdf0c4"></div>
<div class="b" style="left:979.00px;top:558.00px;width:152.00px;height:18.00px;background:#fdf0c4"></div>
<div class="b" style="left:1131.00px;top:558.00px;width:152.00px;height:18.00px;background:#fdf0c4"></div>
<div class="b" style="left:652.00px;top:431.00px;width:934.00px;height:1.00px;background:#d0d0d0"></div>
<div class="b" style="left:652.00px;top:449.00px;width:934.00px;height:1.00px;background:#d6d6d6"></div>
<div class="b" style="left:652.00px;top:467.00px;width:934.00px;height:1.00px;background:#d6d6d6"></div>
<div class="b" style="left:652.00px;top:485.00px;width:934.00px;height:1.00px;background:#d6d6d6"></div>
<div class="b" style="left:652.00px;top:503.00px;width:934.00px;height:1.00px;background:#d6d6d6"></div>
<div class="b" style="left:652.00px;top:521.00px;width:934.00px;height:1.00px;background:#d6d6d6"></div>
<div class="b" style="left:652.00px;top:539.00px;width:934.00px;height:1.00px;background:#d6d6d6"></div>
<div class="b" style="left:652.00px;top:557.00px;width:934.00px;height:1.00px;background:#d6d6d6"></div>
<div class="b" style="left:652.00px;top:575.00px;width:934.00px;height:1.00px;background:#d6d6d6"></div>
<div class="b" style="left:652.00px;top:593.00px;width:934.00px;height:1.00px;background:#d6d6d6"></div>
<div class="b" style="left:652.00px;top:611.00px;width:934.00px;height:1.00px;background:#d6d6d6"></div>
<div class="b" style="left:652.00px;top:629.00px;width:934.00px;height:1.00px;background:#d6d6d6"></div>
<div class="b" style="left:652.00px;top:647.00px;width:934.00px;height:1.00px;background:#d6d6d6"></div>
<div class="b" style="left:652.00px;top:665.00px;width:934.00px;height:1.00px;background:#d6d6d6"></div>
<div class="b" style="left:652.00px;top:683.00px;width:934.00px;height:1.00px;background:#d6d6d6"></div>
<div class="b" style="left:652.00px;top:701.00px;width:934.00px;height:1.00px;background:#d6d6d6"></div>
<div class="b" style="left:652.00px;top:719.00px;width:934.00px;height:1.00px;background:#d6d6d6"></div>
<div class="b" style="left:652.00px;top:737.00px;width:934.00px;height:1.00px;background:#d6d6d6"></div>
<div class="b" style="left:652.00px;top:755.00px;width:934.00px;height:1.00px;background:#d6d6d6"></div>
<div class="b" style="left:652.00px;top:773.00px;width:934.00px;height:1.00px;background:#d6d6d6"></div>
<div class="b" style="left:652.00px;top:791.00px;width:934.00px;height:1.00px;background:#d6d6d6"></div>
<div class="b" style="left:652.00px;top:809.00px;width:934.00px;height:1.00px;background:#d6d6d6"></div>
<div class="b" style="left:652.00px;top:827.00px;width:934.00px;height:1.00px;background:#d6d6d6"></div>
<div class="b" style="left:652.00px;top:845.00px;width:934.00px;height:1.00px;background:#d6d6d6"></div>
<div class="b" style="left:652.00px;top:863.00px;width:934.00px;height:1.00px;background:#d6d6d6"></div>
<div class="b" style="left:652.00px;top:881.00px;width:934.00px;height:1.00px;background:#d6d6d6"></div>
<div class="b" style="left:652.00px;top:899.00px;width:934.00px;height:1.00px;background:#d6d6d6"></div>
<div class="b" style="left:652.00px;top:917.00px;width:934.00px;height:1.00px;background:#d6d6d6"></div>
<div class="b" style="left:652.00px;top:935.00px;width:934.00px;height:1.00px;background:#d6d6d6"></div>
<div class="b" style="left:652.00px;top:953.00px;width:934.00px;height:1.00px;background:#d6d6d6"></div>
<div class="b" style="left:675.00px;top:431.50px;width:1.00px;height:531.50px;background:#d6d6d6"></div>
<div class="b" style="left:827.00px;top:431.50px;width:1.00px;height:531.50px;background:#d6d6d6"></div>
<div class="b" style="left:978.00px;top:431.50px;width:1.00px;height:531.50px;background:#d6d6d6"></div>
<div class="b" style="left:1130.00px;top:431.50px;width:1.00px;height:531.50px;background:#d6d6d6"></div>
<div class="b" style="left:1282.00px;top:431.50px;width:1.00px;height:531.50px;background:#d6d6d6"></div>
<div class="b" style="left:1433.00px;top:431.50px;width:1.00px;height:531.50px;background:#d6d6d6"></div>
<div class="b" style="left:675.50px;top:449.50px;width:151.50px;height:17.50px;background:#1e2838"></div>
<div class="b" style="left:676.00px;top:556.50px;width:151.50px;height:2.00px;background:#cfcfcf"></div>
<div class="b" style="left:1131.00px;top:558.00px;width:151.00px;height:17.00px;border:2px solid #1f7044;background:#fdf0c4"></div>
<div class="t" style="top:435.00px;font-size:9.5px;line-height:12px;color:#333;left:463.50px;width:400px;text-align:center;-webkit-text-stroke:0.22px currentColor;"><span id="t67">#</span></div>
<div class="t" style="top:435.00px;font-size:9.5px;line-height:12px;color:#333;left:551.50px;width:400px;text-align:center;-webkit-text-stroke:0.22px currentColor;"><span id="t68">A</span></div>
<div class="t" style="top:435.00px;font-size:9.5px;line-height:12px;color:#333;left:703.00px;width:400px;text-align:center;-webkit-text-stroke:0.22px currentColor;"><span id="t69">B</span></div>
<div class="t" style="top:435.00px;font-size:9.5px;line-height:12px;color:#333;left:854.50px;width:400px;text-align:center;-webkit-text-stroke:0.22px currentColor;"><span id="t70">C</span></div>
<div class="t" style="top:435.00px;font-size:9.5px;line-height:12px;color:#333;left:1006.50px;width:400px;text-align:center;-webkit-text-stroke:0.22px currentColor;"><span id="t71">D</span></div>
<div class="t" style="top:435.00px;font-size:9.5px;line-height:12px;color:#333;left:1158.00px;width:400px;text-align:center;-webkit-text-stroke:0.22px currentColor;"><span id="t72">E</span></div>
<div class="t" style="top:435.00px;font-size:9.5px;line-height:12px;color:#333;left:1310.00px;width:400px;text-align:center;-webkit-text-stroke:0.22px currentColor;"><span id="t73">F</span></div>
<div class="t" style="top:453.00px;font-size:10px;line-height:12px;color:#383838;left:463.29px;width:400px;text-align:center;-webkit-text-stroke:0.22px currentColor;"><span id="t74" style="display:inline-block;transform:scaleX(0.7422);transform-origin:50% 50%;">1</span></div>
<div class="t" style="top:471.00px;font-size:10px;line-height:12px;color:#383838;left:463.40px;width:400px;text-align:center;-webkit-text-stroke:0.22px currentColor;"><span id="t75" style="display:inline-block;transform:scaleX(1.0317);transform-origin:50% 50%;">2</span></div>
<div class="t" style="top:489.00px;font-size:10px;line-height:12px;color:#383838;left:463.43px;width:400px;text-align:center;-webkit-text-stroke:0.22px currentColor;"><span id="t76" style="display:inline-block;transform:scaleX(0.9913);transform-origin:50% 50%;">3</span></div>
<div class="t" style="top:507.00px;font-size:10px;line-height:12px;color:#383838;left:463.43px;width:400px;text-align:center;-webkit-text-stroke:0.22px currentColor;"><span id="t77" style="display:inline-block;transform:scaleX(0.9327);transform-origin:50% 50%;">4</span></div>
<div class="t" style="top:525.00px;font-size:10px;line-height:12px;color:#383838;left:463.41px;width:400px;text-align:center;-webkit-text-stroke:0.22px currentColor;"><span id="t78" style="display:inline-block;transform:scaleX(0.9913);transform-origin:50% 50%;">5</span></div>
<div class="t" style="top:543.00px;font-size:10px;line-height:12px;color:#383838;left:463.37px;width:400px;text-align:center;-webkit-text-stroke:0.22px currentColor;"><span id="t79" style="display:inline-block;transform:scaleX(1.0186);transform-origin:50% 50%;">6</span></div>
<div class="t" style="top:561.00px;font-size:10px;line-height:12px;color:#383838;left:463.39px;width:400px;text-align:center;-webkit-text-stroke:0.22px currentColor;"><span id="t80" style="display:inline-block;transform:scaleX(1.0339);transform-origin:50% 50%;">7</span></div>
<div class="t" style="top:579.00px;font-size:10px;line-height:12px;color:#383838;left:463.40px;width:400px;text-align:center;-webkit-text-stroke:0.22px currentColor;"><span id="t81" style="display:inline-block;transform:scaleX(1.0016);transform-origin:50% 50%;">8</span></div>
<div class="t" style="top:597.00px;font-size:10px;line-height:12px;color:#383838;left:463.40px;width:400px;text-align:center;-webkit-text-stroke:0.22px currentColor;"><span id="t82" style="display:inline-block;transform:scaleX(1.0175);transform-origin:50% 50%;">9</span></div>
<div class="t" style="top:615.00px;font-size:10px;line-height:12px;color:#383838;left:463.25px;width:400px;text-align:center;-webkit-text-stroke:0.22px currentColor;"><span id="t83" style="display:inline-block;transform:scaleX(0.8024);transform-origin:50% 50%;">10</span></div>
<div class="t" style="top:633.00px;font-size:10px;line-height:12px;color:#383838;left:463.31px;width:400px;text-align:center;-webkit-text-stroke:0.22px currentColor;"><span id="t84" style="display:inline-block;transform:scaleX(0.6584);transform-origin:50% 50%;">11</span></div>
<div class="t" style="top:651.00px;font-size:10px;line-height:12px;color:#383838;left:463.30px;width:400px;text-align:center;-webkit-text-stroke:0.22px currentColor;"><span id="t85" style="display:inline-block;transform:scaleX(0.7506);transform-origin:50% 50%;">12</span></div>
<div class="t" style="top:669.00px;font-size:10px;line-height:12px;color:#383838;left:463.28px;width:400px;text-align:center;-webkit-text-stroke:0.22px currentColor;"><span id="t86" style="display:inline-block;transform:scaleX(0.7458);transform-origin:50% 50%;">13</span></div>
<div class="t" style="top:687.00px;font-size:10px;line-height:12px;color:#383838;left:463.23px;width:400px;text-align:center;-webkit-text-stroke:0.22px currentColor;"><span id="t87" style="display:inline-block;transform:scaleX(0.7350);transform-origin:50% 50%;">14</span></div>
<div class="t" style="top:705.00px;font-size:10px;line-height:12px;color:#383838;left:463.27px;width:400px;text-align:center;-webkit-text-stroke:0.22px currentColor;"><span id="t88" style="display:inline-block;transform:scaleX(0.7444);transform-origin:50% 50%;">15</span></div>
<div class="t" style="top:723.00px;font-size:10px;line-height:12px;color:#383838;left:463.28px;width:400px;text-align:center;-webkit-text-stroke:0.22px currentColor;"><span id="t89" style="display:inline-block;transform:scaleX(0.7458);transform-origin:50% 50%;">16</span></div>
<div class="t" style="top:741.00px;font-size:10px;line-height:12px;color:#383838;left:463.30px;width:400px;text-align:center;-webkit-text-stroke:0.22px currentColor;"><span id="t90" style="display:inline-block;transform:scaleX(0.7506);transform-origin:50% 50%;">17</span></div>
<div class="t" style="top:759.00px;font-size:10px;line-height:12px;color:#383838;left:463.27px;width:400px;text-align:center;-webkit-text-stroke:0.22px currentColor;"><span id="t91" style="display:inline-block;transform:scaleX(0.7455);transform-origin:50% 50%;">18</span></div>
<div class="t" style="top:777.00px;font-size:10px;line-height:12px;color:#383838;left:463.29px;width:400px;text-align:center;-webkit-text-stroke:0.22px currentColor;"><span id="t92" style="display:inline-block;transform:scaleX(0.7484);transform-origin:50% 50%;">19</span></div>
<div class="t" style="top:795.00px;font-size:10px;line-height:12px;color:#383838;left:463.35px;width:400px;text-align:center;-webkit-text-stroke:0.22px currentColor;"><span id="t93" style="display:inline-block;transform:scaleX(0.8700);transform-origin:50% 50%;">20</span></div>
<div class="t" style="top:813.00px;font-size:10px;line-height:12px;color:#383838;left:463.39px;width:400px;text-align:center;-webkit-text-stroke:0.22px currentColor;"><span id="t94" style="display:inline-block;transform:scaleX(0.7600);transform-origin:50% 50%;">21</span></div>
<div class="t" style="top:831.00px;font-size:10px;line-height:12px;color:#383838;left:463.40px;width:400px;text-align:center;-webkit-text-stroke:0.22px currentColor;"><span id="t95" style="display:inline-block;transform:scaleX(0.8797);transform-origin:50% 50%;">22</span></div>
<div class="t" style="top:849.00px;font-size:10px;line-height:12px;color:#383838;left:463.37px;width:400px;text-align:center;-webkit-text-stroke:0.22px currentColor;"><span id="t96" style="display:inline-block;transform:scaleX(0.8742);transform-origin:50% 50%;">23</span></div>
<div class="t" style="top:867.00px;font-size:10px;line-height:12px;color:#383838;left:463.31px;width:400px;text-align:center;-webkit-text-stroke:0.22px currentColor;"><span id="t97" style="display:inline-block;transform:scaleX(0.8618);transform-origin:50% 50%;">24</span></div>
<div class="t" style="top:885.00px;font-size:10px;line-height:12px;color:#383838;left:463.37px;width:400px;text-align:center;-webkit-text-stroke:0.22px currentColor;"><span id="t98" style="display:inline-block;transform:scaleX(0.8725);transform-origin:50% 50%;">25</span></div>
<div class="t" style="top:903.00px;font-size:10px;line-height:12px;color:#383838;left:463.37px;width:400px;text-align:center;-webkit-text-stroke:0.22px currentColor;"><span id="t99" style="display:inline-block;transform:scaleX(0.8742);transform-origin:50% 50%;">26</span></div>
<div class="t" style="top:921.00px;font-size:10px;line-height:12px;color:#383838;left:463.40px;width:400px;text-align:center;-webkit-text-stroke:0.22px currentColor;"><span id="t100" style="display:inline-block;transform:scaleX(0.8797);transform-origin:50% 50%;">27</span></div>
<div class="t" style="top:939.00px;font-size:10px;line-height:12px;color:#383838;left:463.37px;width:400px;text-align:center;-webkit-text-stroke:0.22px currentColor;"><span id="t101" style="display:inline-block;transform:scaleX(0.8738);transform-origin:50% 50%;">28</span></div>
<div class="t" style="top:957.00px;font-size:10px;line-height:12px;color:#383838;left:463.39px;width:400px;text-align:center;-webkit-text-stroke:0.22px currentColor;"><span id="t102" style="display:inline-block;transform:scaleX(0.8772);transform-origin:50% 50%;">29</span></div>
<span class="t" id="t103" style="top:453.00px;font-size:10.5px;line-height:13px;color:#fff;left:685.32px;font-weight:700;transform:scaleX(0.9665);transform-origin:0 50%;">PREMIUM UPSELL OPPO...</span>
<div class="t" style="top:488.00px;font-size:11px;line-height:14px;color:#3d3d3d;left:551.58px;width:400px;text-align:center;"><span id="t104" style="display:inline-block;transform:scaleX(0.9749);transform-origin:50% 50%;">Account Tier</span></div>
<div class="t" style="top:488.00px;font-size:11px;line-height:14px;color:#3d3d3d;left:702.85px;width:400px;text-align:center;"><span id="t105" style="display:inline-block;transform:scaleX(0.9744);transform-origin:50% 50%;">Starter</span></div>
<div class="t" style="top:488.00px;font-size:11px;line-height:14px;color:#3d3d3d;left:854.58px;width:400px;text-align:center;"><span id="t106" style="display:inline-block;transform:scaleX(0.9945);transform-origin:50% 50%;">Growth</span></div>
<div class="t" style="top:488.00px;font-size:11px;line-height:14px;color:#3d3d3d;left:1006.28px;width:400px;text-align:center;"><span id="t107" style="display:inline-block;transform:scaleX(1.0157);transform-origin:50% 50%;">Pro</span></div>
<div class="t" style="top:488.00px;font-size:11px;line-height:14px;color:#3d3d3d;left:1157.80px;width:400px;text-align:center;"><span id="t108" style="display:inline-block;transform:scaleX(0.9950);transform-origin:50% 50%;">Enterprise</span></div>
<div class="t" style="top:488.00px;font-size:11px;line-height:14px;color:#3d3d3d;left:1309.74px;width:400px;text-align:center;"><span id="t109" style="display:inline-block;transform:scaleX(0.9799);transform-origin:50% 50%;">Total</span></div>
<div class="t" style="top:524.00px;font-size:11px;line-height:14px;color:#3d3d3d;left:551.57px;width:400px;text-align:center;"><span id="t110" style="display:inline-block;transform:scaleX(0.9638);transform-origin:50% 50%;">Total Accounts</span></div>
<div class="t" style="top:524.00px;font-size:11px;line-height:14px;color:#3d3d3d;left:702.73px;width:400px;text-align:center;"><span id="t111" style="display:inline-block;transform:scaleX(1.0619);transform-origin:50% 50%;">1,284</span></div>
<div class="t" style="top:524.00px;font-size:11px;line-height:14px;color:#3d3d3d;left:854.55px;width:400px;text-align:center;"><span id="t112" style="display:inline-block;transform:scaleX(1.0969);transform-origin:50% 50%;">842</span></div>
<div class="t" style="top:524.00px;font-size:11px;line-height:14px;color:#3d3d3d;left:1006.43px;width:400px;text-align:center;"><span id="t113" style="display:inline-block;transform:scaleX(1.0801);transform-origin:50% 50%;">524</span></div>
<div class="t" style="top:524.00px;font-size:11px;line-height:14px;color:#3d3d3d;left:1157.84px;width:400px;text-align:center;"><span id="t114" style="display:inline-block;transform:scaleX(1.1202);transform-origin:50% 50%;">197</span></div>
<div class="t m" style="top:526.00px;font-size:10px;line-height:12px;color:#3653a8;left:1309.54px;width:400px;text-align:center;"><span id="t115" style="display:inline-block;transform:scaleX(1.0238);transform-origin:50% 50%;">2,847</span></div>
<div class="t" style="top:543.00px;font-size:10px;line-height:12px;color:#3d58a8;left:702.96px;width:400px;text-align:center;"><span id="t116" style="display:inline-block;transform:scaleX(1.1113);transform-origin:50% 50%;">218</span></div>
<div class="t" style="top:543.00px;font-size:10px;line-height:12px;color:#3d58a8;left:854.32px;width:400px;text-align:center;"><span id="t117" style="display:inline-block;transform:scaleX(1.1302);transform-origin:50% 50%;">126</span></div>
<div class="t" style="top:543.00px;font-size:10px;line-height:12px;color:#3d58a8;left:1006.46px;width:400px;text-align:center;"><span id="t118" style="display:inline-block;transform:scaleX(1.1296);transform-origin:50% 50%;">68</span></div>
<div class="t" style="top:543.00px;font-size:10px;line-height:12px;color:#3d58a8;left:1157.82px;width:400px;text-align:center;"><span id="t119" style="display:inline-block;transform:scaleX(1.1591);transform-origin:50% 50%;">16</span></div>
<div class="t" style="top:543.00px;font-size:10px;line-height:12px;color:#3d58a8;left:1309.61px;width:400px;text-align:center;"><span id="t120" style="display:inline-block;transform:scaleX(1.0923);transform-origin:50% 50%;">428</span></div>
<div class="t" style="top:542.00px;font-size:11px;line-height:14px;color:#3d3d3d;left:551.28px;width:400px;text-align:center;"><span id="t121" style="display:inline-block;transform:scaleX(0.9713);transform-origin:50% 50%;">Upsell Candidates</span></div>
<div class="t" style="top:561.00px;font-size:11px;line-height:14px;color:#1c1c1c;left:551.37px;width:400px;text-align:center;font-weight:700;"><span id="t122" style="display:inline-block;transform:scaleX(0.9257);transform-origin:50% 50%;">Upsell Rate</span></div>
<div class="t" style="top:560.00px;font-size:11px;line-height:14px;color:#9a4a1c;left:702.79px;width:400px;text-align:center;font-weight:700;"><span id="t123" style="display:inline-block;transform:scaleX(1.0263);transform-origin:50% 50%;">17.0%</span></div>
<div class="t" style="top:560.00px;font-size:11px;line-height:14px;color:#9a4a1c;left:854.30px;width:400px;text-align:center;font-weight:700;"><span id="t124" style="display:inline-block;transform:scaleX(1.0263);transform-origin:50% 50%;">15.0%</span></div>
<div class="t" style="top:560.00px;font-size:11px;line-height:14px;color:#a5582a;left:1006.30px;width:400px;text-align:center;font-weight:700;"><span id="t125" style="display:inline-block;transform:scaleX(1.0263);transform-origin:50% 50%;">13.0%</span></div>
<div class="b" style="left:652.00px;top:962.00px;width:934.00px;height:33.00px;background:#f2f2f2;border-top:1px solid #d0d0d0;border-radius:0 0 6px 6px"></div>
<div class="b" style="left:663.50px;top:974.50px;width:7.00px;height:7.00px;background:#217346;border-radius:50%"></div>
<div class="b" style="left:690.00px;top:970.50px;width:1.00px;height:15.00px;background:#d0d0d0"></div>
<div class="b" style="left:703.00px;top:969.00px;width:102.00px;height:18.00px;background:#fff;border:1px solid #c4c4c4"></div>
<svg class="b" style="left:710.50px;top:974.70px;" width="6.00" height="6.00" viewBox="0 0 24 24" fill="none" stroke="#888" stroke-width="2.2" stroke-linecap="round" stroke-linejoin="round"><rect x="5" y="3" width="14" height="18" rx="1"/></svg>
<span class="t" id="t126" style="top:973.00px;font-size:9px;line-height:11px;color:#333;left:717.96px;transform:scaleX(0.9160);transform-origin:0 50%;">usage_analysis</span>
<span class="t m" id="t127" style="top:974.00px;font-size:8px;line-height:10px;color:#444;right:344.88px;letter-spacing:0.216px;">Expansion</span>
<div class="b" style="left:684.00px;top:846.00px;width:895.00px;height:107.00px;background:rgba(255,255,255,.985);border:1px solid #eef0f3;border-radius:13px;box-shadow:0 4px 18px rgba(15,23,42,.05)"></div>
<span class="t" id="t128" style="top:866.00px;font-size:15px;line-height:18px;color:#a1a4aa;left:700.47px;letter-spacing:-0.153px;white-space:pre;">Analyze </span>
<span class="t" id="t129" style="top:866.00px;font-size:15px;line-height:18px;color:#dc2626;left:756.66px;font-weight:700;letter-spacing:-0.443px;white-space:pre;">customer accounts </span>
<span class="t" id="t130" style="top:866.00px;font-size:15px;line-height:18px;color:#a1a4aa;left:891.02px;letter-spacing:0.130px;white-space:pre;">to identify </span>
<span class="t" id="t131" style="top:866.00px;font-size:15px;line-height:18px;color:#dc2626;left:960.51px;font-weight:700;letter-spacing:-0.444px;white-space:pre;">premium upsell opportunities </span>
<span class="t" id="t132" style="top:866.00px;font-size:15px;line-height:18px;color:#a1a4aa;left:1159.23px;letter-spacing:-0.066px;white-space:pre;">. Score accounts by </span>
<span class="t" id="t133" style="top:866.00px;font-size:15px;line-height:18px;color:#dc2626;left:1293.82px;font-weight:700;letter-spacing:-0.339px;white-space:pre;">usage patterns </span>
<span class="t" id="t134" style="top:866.00px;font-size:15px;line-height:18px;color:#a1a4aa;left:1397.10px;white-space:pre;">, </span>
<span class="t" id="t135" style="top:888.00px;font-size:15px;line-height:18px;color:#dc2626;left:700.24px;font-weight:700;letter-spacing:-0.388px;white-space:pre;">feature adoption </span>
<span class="t" id="t136" style="top:888.00px;font-size:15px;line-height:18px;color:#a1a4aa;left:810.90px;letter-spacing:0.238px;white-space:pre;">, and </span>
<span class="t" id="t137" style="top:888.00px;font-size:15px;line-height:18px;color:#dc2626;left:848.16px;font-weight:700;letter-spacing:-0.334px;white-space:pre;">engagement metrics </span>
<span class="t" id="t138" style="top:888.00px;font-size:15px;line-height:18px;color:#a1a4aa;left:987.63px;letter-spacing:-0.204px;white-space:pre;">. Generate </span>
<span class="t" id="t139" style="top:888.00px;font-size:15px;line-height:18px;color:#dc2626;left:1060.26px;font-weight:700;letter-spacing:-0.374px;white-space:pre;">personalized upgrade paths </span>
<span class="t" id="t140" style="top:888.00px;font-size:15px;line-height:18px;color:#a1a4aa;left:1254.02px;letter-spacing:0.426px;white-space:pre;">with </span>
<span class="t" id="t141" style="top:888.00px;font-size:15px;line-height:18px;color:#dc2626;left:1285.00px;font-weight:700;letter-spacing:-0.558px;white-space:pre;">ROI projections </span>
<span class="t" id="t142" style="top:888.00px;font-size:15px;line-height:18px;color:#a1a4aa;left:1392.54px;letter-spacing:0.177px;white-space:pre;">for each </span>
<span class="t" id="t143" style="top:911.00px;font-size:15px;line-height:18px;color:#a1a4aa;left:699.86px;letter-spacing:0.108px;white-space:pre;">account tier. </span>
<div class="b" style="left:1478.00px;top:913.00px;width:84.00px;height:24.50px;background:#f5f7fa;border:1px solid #e6eaf0;border-radius:12.5px;box-shadow:0 1px 2px rgba(15,23,42,.04)"></div>
<span class="t" id="t144" style="top:917.00px;font-size:13.5px;line-height:17px;color:#c3ccda;left:1494.89px;letter-spacing:0.485px;-webkit-text-stroke:0.22px currentColor;">Send</span>
<svg class="b" style="left:1532.50px;top:919.80px;" width="11.00" height="11.00" viewBox="0 0 24 24" fill="none" stroke="#c3cede" stroke-width="2" stroke-linecap="round" stroke-linejoin="round"><path d="M12 19V5M6 11l6-6 6 6"/></svg>
<div class="b" style="left:732.00px;top:932.00px;width:448.00px;height:49.00px;background:#fff;border-radius:9px;box-shadow:0 3px 6px -2px rgba(15,23,42,.07)"></div>
<span class="t" id="t145" style="top:935.00px;font-size:14px;line-height:17px;color:#363e4f;left:744.44px;letter-spacing:-0.100px;-webkit-text-stroke:0.22px currentColor;">We use cookies to improve your</span>
<span class="t" id="t146" style="top:955.00px;font-size:14px;line-height:17px;color:#363e4f;left:743.91px;letter-spacing:0.039px;-webkit-text-stroke:0.22px currentColor;white-space:pre;">experience. </span>
<span class="t" id="t147" style="top:955.00px;font-size:14px;line-height:17px;color:#d62a2a;left:819.55px;letter-spacing:-0.073px;-webkit-text-stroke:0.22px currentColor;text-decoration:underline;text-decoration-thickness:1.2px;text-underline-offset:3.8px;">Privacy Policy</span>
<div class="b" style="left:1021.00px;top:938.00px;width:73.00px;height:32.00px;background:#fff;border:1px solid #f6dcbc;border-radius:6px"></div>
<span class="t" id="t148" style="top:945.00px;font-size:14px;line-height:17px;color:#2a2f3a;left:1033.35px;letter-spacing:0.180px;-webkit-text-stroke:0.22px currentColor;">Decline</span>
<div class="b" style="left:1100.00px;top:938.00px;width:68.00px;height:32.00px;background:#f91b1b;border-radius:6px"></div>
<span class="t" id="t149" style="top:945.00px;font-size:14px;line-height:17px;color:#fff;left:1112.47px;letter-spacing:0.166px;-webkit-text-stroke:0.22px currentColor;">Accept</span>
</div>
</body>
</html>
